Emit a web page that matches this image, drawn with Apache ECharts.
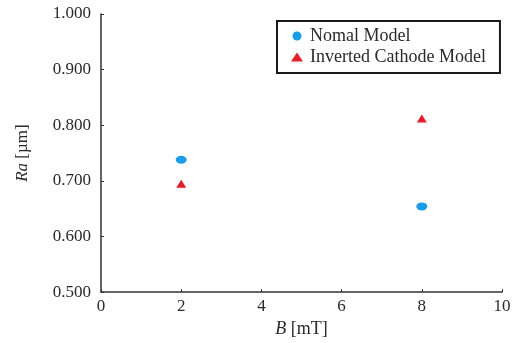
<!DOCTYPE html>
<html>
<head>
<meta charset="utf-8">
<script src="https://cdn.jsdelivr.net/npm/echarts@6/dist/echarts.min.js"></script>
<style>
  html, body { margin: 0; padding: 0; background: #fff; }
  #chart { width: 518px; height: 343px; }
</style>
</head>
<body>
<div id="chart"></div>
<script>
// field strength B [mT]
var fields = [2, 8];
// Ra [um] per model
var nomalRa = [0.738, 0.654];
var invertedRa = [0.695, 0.812];
var seriesNames = ["Nomal Model", "Inverted Cathode Model"];

function pairs(xs, ys) {
    return xs.map(function (x, i) {
        return [x, ys[i]];
    });
}

var chart = echarts.init(document.getElementById("chart"));
var serif = "Liberation Serif";
var axisColor = "#333";
var textColor = "#2a2a2a";

var option = {
    animation: false,
    backgroundColor: "#fff",
    textStyle: { fontFamily: serif },
    grid: { left: 101, right: 16, top: 14, bottom: 49 },
    legend: {
        orient: "vertical",
        left: 277,
        top: 21,
        padding: [6, 14, 7, 14],
        itemGap: 3,
        itemWidth: 12,
        itemHeight: 9,
        borderColor: "#1a1a1a",
        borderWidth: 2,
        textStyle: { fontFamily: serif, fontSize: 18, color: textColor, padding: [0, 0, 0, 2] },
        data: [
            { name: seriesNames[0], icon: "circle" },
            { name: seriesNames[1], icon: "triangle" }
        ]
    },
    xAxis: {
        type: "value",
        min: 0,
        max: 10,
        interval: 2,
        name: "{i|B} [mT]",
        nameLocation: "middle",
        nameGap: 25,
        nameTextStyle: {
            fontFamily: serif, fontSize: 18, color: textColor,
            rich: { i: { fontFamily: serif, fontSize: 18, fontStyle: "italic", color: textColor } }
        },
        axisLine: { lineStyle: { color: axisColor, width: 1.5 } },
        axisTick: { inside: true, length: 3, lineStyle: { color: axisColor } },
        axisLabel: { margin: 6, fontFamily: serif, fontSize: 17, color: textColor },
        splitLine: { show: false }
    },
    yAxis: {
        type: "value",
        min: 0.5,
        max: 1.0,
        interval: 0.1,
        name: "{i|Ra} [\u00b5m]",
        nameLocation: "middle",
        nameRotate: 90,
        nameGap: 70,
        nameTextStyle: {
            fontFamily: serif, fontSize: 17, color: textColor,
            rich: { i: { fontFamily: serif, fontSize: 17, fontStyle: "italic", color: textColor } }
        },
        axisLine: { show: true, lineStyle: { color: axisColor, width: 1.5 } },
        axisTick: { show: true, inside: true, length: 3, lineStyle: { color: axisColor } },
        axisLabel: {
            margin: 10, fontFamily: serif, fontSize: 17, color: textColor,
            formatter: function (v) { return v.toFixed(3); }
        },
        splitLine: { show: false }
    },
    series: [
        {
            name: seriesNames[0],
            type: "scatter",
            symbol: "circle",
            symbolSize: [11, 8],
            itemStyle: { color: "#1a9de6", opacity: 1 },
            data: pairs(fields, nomalRa)
        },
        {
            name: seriesNames[1],
            type: "scatter",
            symbol: "triangle",
            symbolSize: [10, 8],
            itemStyle: { color: "#e41e28", opacity: 1 },
            data: pairs(fields, invertedRa)
        }
    ]
};
chart.setOption(option);
</script>
</body>
</html>
